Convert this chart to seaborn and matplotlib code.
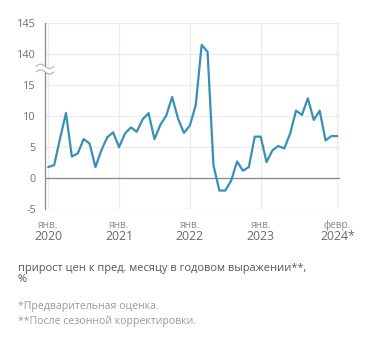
import numpy as np
import pandas as pd
import matplotlib
matplotlib.use("Agg")
import matplotlib.pyplot as plt
import matplotlib.transforms as mtransforms
import seaborn as sns

# Monthly price growth, Jan 2020 – Feb 2024 (% saar)
months = list(range(50))
values = [
    1.7, 2.0, 6.3, 10.4, 3.4, 3.9, 6.2, 5.5, 1.7, 4.4, 6.5, 7.3,
    4.9, 7.1, 8.1, 7.4, 9.4, 10.4, 6.2, 8.5, 10.0, 13.0, 9.5, 7.2,
    8.4, 11.7, 141.4, 140.3, 2.0, -2.1, -2.1, -0.5, 2.6, 1.1, 1.7, 6.6,
    6.6, 2.5, 4.4, 5.1, 4.7, 7.1, 10.8, 10.1, 12.8, 9.3, 10.8, 6.0,
    6.7, 6.7,
]
tick_pos = [0, 12, 24, 36, 49]
tick_months = ["янв.", "янв.", "янв.", "янв.", "февр."]
tick_years = ["2020", "2021", "2022", "2023", "2024*"]
y_ticks = [-5, 0, 5, 10, 15, 140, 145]

subtitle = ["прирост цен к пред. месяцу в годовом выражении**,", "%"]
notes = ["*Предварительная оценка.", "**После сезонной корректировки."]

sns.set_theme(style="white")
plt.rcParams["font.family"] = ["Open Sans", "DejaVu Sans"]

# broken y axis: 15..140 squeezed into a short gap
LOW, HIGH = 15.0, 140.0
GAP = 5.0
SQUEEZE = GAP / (HIGH - LOW)


def fwd(v):
    v = np.asarray(v, dtype=float)
    return np.where(v <= LOW, v,
                    np.where(v >= HIGH, v - (HIGH - LOW - GAP),
                             LOW + (v - LOW) * SQUEEZE))


def inv(t):
    t = np.asarray(t, dtype=float)
    return np.where(t <= LOW, t,
                    np.where(t >= LOW + GAP, t + (HIGH - LOW - GAP),
                             LOW + (t - LOW) / SQUEEZE))


df = pd.DataFrame({"month": months, "value": values})

fig = plt.figure(figsize=(3.72, 3.43), dpi=100)
ax = fig.add_axes([0.121, 0.392, 0.793, 0.542])
ax.set_yscale("function", functions=(fwd, inv))

sns.lineplot(data=df, x="month", y="value", ax=ax, color="#3890b5",
             linewidth=1.6, zorder=3)

ax.set_ylim(-5, 145)
ax.set_xlim(-0.55, 49.45)
ax.set_yticks(y_ticks)
ax.set_yticklabels([str(t) for t in y_ticks])
ax.set_xticks(tick_pos)
ax.set_xticklabels([""] * len(tick_pos))
ax.set_xlabel("")
ax.set_ylabel("")

ax.grid(True, color="#ececec", linewidth=1.0, zorder=0)
ax.axhline(0, color="#8a8a8a", linewidth=0.9, zorder=2)
ax.tick_params(axis="y", length=0, pad=6.5, labelsize=7.8, labelcolor="#707070")
ax.tick_params(axis="x", length=3, width=1.0, color="#ececec", pad=0)

for side in ["top", "right", "bottom"]:
    ax.spines[side].set_visible(False)
ax.spines["left"].set_color("#8a8a8a")
ax.spines["left"].set_linewidth(0.9)
ax.axvline(49.45, color="#ececec", linewidth=1.0, zorder=0)

# month / year labels under the ticks
xt = ax.get_xaxis_transform()
for p, m, y in zip(tick_pos, tick_months, tick_years):
    ax.text(p, -0.091, m, transform=xt, ha="center", va="center",
            fontsize=7.2, color="#8a8a8a")
    ax.text(p, -0.153, y, transform=xt, ha="center", va="center",
            fontsize=8.8, color="#6a6a6a")

# axis break mark across the left spine
tr = mtransforms.blended_transform_factory(ax.transAxes, ax.transData)
wx = np.linspace(-0.03, 0.03, 60)
wave = np.sin((wx + 0.03) / 0.06 * 2 * np.pi)
mid = LOW + GAP / 2
lo = inv(mid - 0.45 + 0.35 * wave)
hi = inv(mid + 0.45 + 0.35 * wave)
ax.fill_between(wx, lo, hi, transform=tr, color="white",
                clip_on=False, zorder=5, linewidth=0)
for edge in (lo, hi):
    ax.plot(wx, edge, transform=tr, color="#b0b0b0",
            linewidth=0.8, clip_on=False, zorder=6)

fig.text(18 / 372, 1 - 269 / 343, subtitle[0], ha="left", va="center",
         fontsize=7.9, color="#555555")
fig.text(18 / 372, 1 - 280 / 343, subtitle[1], ha="left", va="center",
         fontsize=7.9, color="#555555")
fig.text(18 / 372, 1 - 306 / 343, notes[0], ha="left", va="center",
         fontsize=7.6, color="#9a9a9a")
fig.text(18 / 372, 1 - 321 / 343, notes[1], ha="left", va="center",
         fontsize=7.6, color="#9a9a9a")

fig.savefig("out.png", dpi=100, facecolor="white")
